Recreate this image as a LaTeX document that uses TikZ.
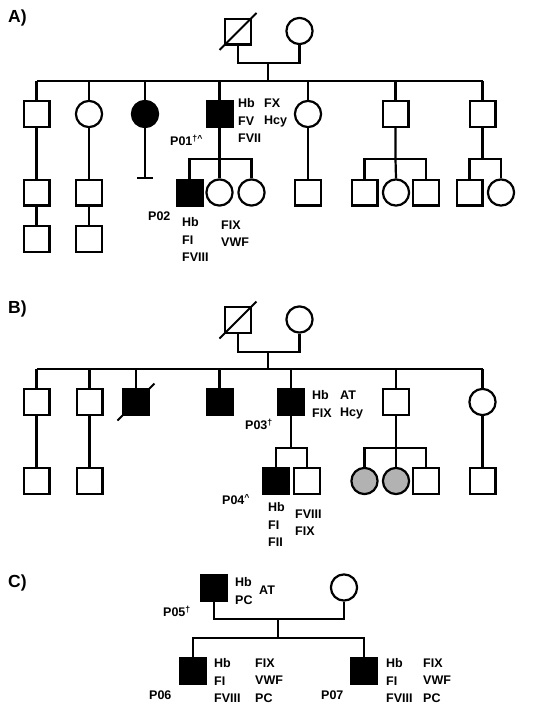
\documentclass[tikz,border=0pt]{standalone}
\usepackage{fontspec}
\setmainfont{Liberation Sans}
\usetikzlibrary{positioning, calc}

\begin{document}
\begin{tikzpicture}[x=1pt, y=-1pt,
    male/.style = {rectangle, draw=black, line width=2.2pt, minimum size=25.8pt, inner sep=0pt},
    female/.style = {circle, draw=black, line width=2.2pt, minimum size=26.2pt, inner sep=0pt},
    affected/.style = {fill=black},
    carrier/.style = {fill=black!30},
    kin/.style = {line width=2.2pt},
    lab/.style = {font=\fontsize{12.5}{17.5}\selectfont\bfseries, align=left, inner sep=0pt, anchor=north west},
    pid/.style = {font=\fontsize{12.5}{15}\selectfont\bfseries, inner sep=0pt, anchor=base west},
    panel/.style = {font=\fontsize{17.5}{20}\selectfont\bfseries, inner sep=0pt, anchor=west}
]
\useasboundingbox (0,0) rectangle (550,712);

% A)
\node [panel] (labA) at (8,17.5) {A)};
\node [male] (aI1) at (238,31.5) {};
\node [female] (aI2) at (299.5,31) {};
\coordinate (aMate) at (268,63);
\coordinate (aSib) at (268,81);

\node [male] (aII1) at (36.5,114) {};
\node [female] (aII2) at (89,114) {};
\node [female, affected] (aII3) at (145,114) {};
\node [male, affected] (P01) at (219.5,114) {};
\node [female] (aII5) at (308,114) {};
\node [male] (aII6) at (395.5,114) {};
\node [male] (aII7) at (482.5,114) {};

\node [male] (aIII1) at (36.5,192.5) {};
\node [male] (aIII2) at (89,192.5) {};
\coordinate (aNone) at (145,178);
\coordinate (aS1) at (219.5,159);
\node [male, affected] (P02) at (189.5,192.5) {};
\node [female] (aIII4) at (219.5,192.5) {};
\node [female] (aIII5) at (251.5,192.5) {};
\node [male] (aIII6) at (308,192.5) {};
\coordinate (aS2) at (395.5,159);
\node [male] (aIII7) at (364.5,192.5) {};
\node [female] (aIII8) at (396,192.5) {};
\node [male] (aIII9) at (426,192.5) {};
\coordinate (aS3) at (482.5,159);
\node [male] (aIII10) at (469.5,192.5) {};
\node [female] (aIII11) at (501,192.5) {};

\node [male] (aIV1) at (36.5,239) {};
\node [male] (aIV2) at (89,239) {};

\draw [kin] (aI1.south) |- (aMate) -| (aI2.south);
\draw [kin] (aMate) -- (aSib);
\draw [kin] (aII1.north |- aSib) -- (aII7.north |- aSib);
\foreach \c in {aII1,aII2,aII3,P01,aII5,aII6,aII7}
    \draw [kin] (\c.north |- aSib) -- (\c.north);
\draw [kin] (aII1) -- (aIII1);
\draw [kin] (aII2) -- (aIII2);
\draw [kin] (aIII1) -- (aIV1);
\draw [kin] (aIII2) -- (aIV2);
\draw [kin] (aII3.south) -- (aNone);
\draw [kin] ([xshift=-8pt]aNone) -- ([xshift=8pt]aNone);
\draw [kin] (P01.south) -- (aS1) -- (aIII4.north);
\draw [kin] (P02.north) |- (aS1) -| (aIII5.north);
\draw [kin] (aII5) -- (aIII6);
\draw [kin] (aII6.south) -- (aS2) -- (aIII8.north);
\draw [kin] (aIII7.north) |- (aS2) -| (aIII9.north);
\draw [kin] (aII7.south) -- (aS3);
\draw [kin] (aIII10.north) |- (aS3) -| (aIII11.north);

\node [lab] (tP01a) at (238,98.5) {Hb\\FV\\FVII};
\node [lab] (tP01b) at (264,98.5) {FX\\Hcy};
\node [pid] (idP01) at (170,145.5) {P01\textsuperscript{†\textasciicircum}};
\node [pid] (idP02) at (148,220.5) {P02};
\node [lab] (tP02a) at (182,217.5) {Hb\\FI\\FVIII};
\node [lab] (tP02b) at (221,220.5) {FIX\\VWF};

% B)
\node [panel] (labB) at (8,309) {B)};
\node [male] (bI1) at (238,320) {};
\node [female] (bI2) at (299.5,319.5) {};
\coordinate (bMate) at (268,352);
\coordinate (bSib) at (268,369);

\node [male] (bII1) at (36.5,402) {};
\node [male] (bII2) at (89.5,402) {};
\node [male, affected] (bII3) at (136,402) {};
\node [male, affected] (bII4) at (219.5,402) {};
\node [male, affected] (P03) at (291,402) {};
\node [male] (bII6) at (396,402) {};
\node [female] (bII7) at (482.5,402) {};

\node [male] (bIII1) at (36.5,481) {};
\node [male] (bIII2) at (89.5,481) {};
\coordinate (bS1) at (291,448);
\node [male, affected] (P04) at (276,481) {};
\node [male] (bIII4) at (307,481) {};
\coordinate (bS2) at (396,448);
\node [female, carrier] (bIII5) at (364.5,481) {};
\node [female, carrier] (bIII6) at (396,481) {};
\node [male] (bIII7) at (426,481) {};
\node [male] (bIII8) at (482.5,481) {};

\draw [kin] (bI1.south) |- (bMate) -| (bI2.south);
\draw [kin] (bMate) -- (bSib);
\draw [kin] (bII1.north |- bSib) -- (bII7.north |- bSib);
\foreach \c in {bII1,bII2,bII3,bII4,P03,bII6,bII7}
    \draw [kin] (\c.north |- bSib) -- (\c.north);
\draw [kin] (bII1) -- (bIII1);
\draw [kin] (bII2) -- (bIII2);
\draw [kin] (P03.south) -- (bS1);
\draw [kin] (P04.north) |- (bS1) -| (bIII4.north);
\draw [kin] (bII6.south) -- (bS2) -- (bIII6.north);
\draw [kin] (bIII5.north) |- (bS2) -| (bIII7.north);
\draw [kin] (bII7) -- (bIII8);

\node [lab] (tP03a) at (312,390.5) {Hb\\FIX};
\node [lab] (tP03b) at (340,390.5) {AT\\Hcy};
\node [pid] (idP03) at (245,429.5) {P03\textsuperscript{†}};
\node [pid] (idP04) at (222,504.5) {P04\textsuperscript{\textasciicircum}};
\node [lab] (tP04a) at (268,502.5) {Hb\\FI\\FII};
\node [lab] (tP04b) at (295,509.5) {FVIII\\FIX};

% deceased
\foreach \c in {aI1,bI1,bII3}
    \draw [kin, line width=1.9pt] ($(\c.center)+(-18.5,18.5)$) -- ($(\c.center)+(18.5,-18.5)$);

% C)
\node [panel] (labC) at (8,583) {C)};
\node [male, affected] (P05) at (214,587.5) {};
\node [female] (cI2) at (344,587.5) {};
\coordinate (cMate) at (278,619);
\coordinate (cSib) at (278,638);
\node [male, affected] (P06) at (193,671) {};
\node [male, affected] (P07) at (364,671) {};

\draw [kin] (P05.south) |- (cMate) -| (cI2.south);
\draw [kin] (cMate) -- (cSib);
\draw [kin] (P06.north) |- (cSib) -| (P07.north);

\node [lab] (tP05a) at (235,577.5) {Hb\\PC};
\node [pid] (tP05b) at (259,594.5) {AT};
\node [pid] (idP05) at (163,616.5) {P05\textsuperscript{†}};
\node [pid] (idP06) at (149,699.5) {P06};
\node [lab] (tP06a) at (214,658.5) {Hb\\FI\\FVIII};
\node [lab] (tP06b) at (255,658.5) {FIX\\VWF\\PC};
\node [pid] (idP07) at (321,699.5) {P07};
\node [lab] (tP07a) at (386,658.5) {Hb\\FI\\FVIII};
\node [lab] (tP07b) at (423,658.5) {FIX\\VWF\\PC};
\end{tikzpicture}
\end{document}
